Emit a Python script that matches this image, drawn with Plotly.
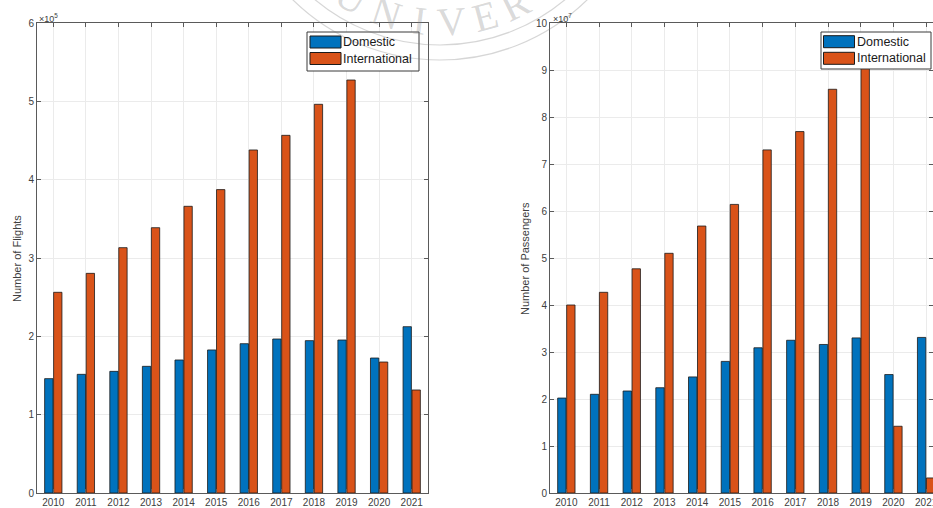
import math
import plotly.graph_objects as go

W, H = 933, 508

years = ['2010', '2011', '2012', '2013', '2014', '2015', '2016', '2017', '2018', '2019', '2020', '2021']
flights_domestic = [146000, 151500, 155300, 161700, 169800, 182600, 190600, 196600, 194500, 195300, 172300, 212300]
flights_international = [256200, 280400, 313200, 338700, 366000, 387300, 437900, 456600, 496200, 527200, 167200, 131500]
passengers_domestic = [20.2e6, 21.0e6, 21.7e6, 22.4e6, 24.7e6, 28.0e6, 30.9e6, 32.5e6, 31.6e6, 33.0e6, 25.2e6, 33.1e6]
passengers_international = [40.0e6, 42.7e6, 47.7e6, 51.0e6, 56.8e6, 61.4e6, 73.0e6, 76.9e6, 85.9e6, 91.0e6, 14.2e6, 3.2e6]
series_names = ['Domestic', 'International']
flight_ticks = [0, 1e5, 2e5, 3e5, 4e5, 5e5, 6e5]
flight_ticktext = ['0', '1', '2', '3', '4', '5', '6']
passenger_ticks = [0, 1e7, 2e7, 3e7, 4e7, 5e7, 6e7, 7e7, 8e7, 9e7, 10e7]
passenger_ticktext = ['0', '1', '2', '3', '4', '5', '6', '7', '8', '9', '10']
watermark_letters = ['U', 'N', 'I', 'V', 'E', 'R']

BLUE = '#0072BD'
ORANGE = '#D95319'
FONT = 'Liberation Sans'
AX = '#5a5a5a'
TXT = '#404040'


def px(x):
    return x / W


def py(y):
    return 1 - y / H


fig = go.Figure()
edge = dict(color='#1a1a1a', width=0.8)
fig.add_bar(x=years, y=flights_domestic, name=series_names[0], marker=dict(color=BLUE, line=edge),
            xaxis='x', yaxis='y', showlegend=False)
fig.add_bar(x=years, y=flights_international, name=series_names[1], marker=dict(color=ORANGE, line=edge),
            xaxis='x', yaxis='y', showlegend=False)
fig.add_bar(x=years, y=passengers_domestic, name=series_names[0], marker=dict(color=BLUE, line=edge),
            xaxis='x2', yaxis='y2', showlegend=False)
fig.add_bar(x=years, y=passengers_international, name=series_names[1], marker=dict(color=ORANGE, line=edge),
            xaxis='x2', yaxis='y2', showlegend=False)

common_x = dict(type='category', ticks='inside', ticklen=4, tickcolor=AX, mirror='ticks', showline=True,
                linecolor=AX, linewidth=1, showgrid=True, gridcolor='#ebebeb', gridwidth=1,
                tickfont=dict(family=FONT, size=10, color=TXT), zeroline=False, automargin=False)
common_y = dict(ticks='inside', ticklen=4, tickcolor=AX, mirror='ticks', showline=True,
                linecolor=AX, linewidth=1, showgrid=True, gridcolor='#ebebeb', gridwidth=1,
                tickfont=dict(family=FONT, size=10, color=TXT), zeroline=False, automargin=False)

ydom = [py(493), py(23)]

fig.update_layout(
    template='none',
    width=W, height=H, autosize=False,
    margin=dict(l=0, r=0, t=0, b=0, pad=0),
    paper_bgcolor='white', plot_bgcolor='white',
    font=dict(family=FONT, color=TXT),
    barmode='group', bargap=0.45, bargroupgap=0.07,
    xaxis=dict(common_x, domain=[px(37), px(428)], range=[-0.5, 11.5], anchor='y'),
    yaxis=dict(common_y, domain=ydom, range=[0, 6e5], tickvals=flight_ticks, ticktext=flight_ticktext, anchor='x'),
    xaxis2=dict(common_x, domain=[px(550), 1.0], range=[-0.5, 11.21], anchor='y2'),
    yaxis2=dict(common_y, domain=ydom, range=[0, 10e7], tickvals=passenger_ticks, ticktext=passenger_ticktext, anchor='x2'),
    showlegend=False,
)

shapes = []
annotations = []

annotations.append(dict(x=px(17), y=py(259), xref='paper', yref='paper', text='Number of Flights', textangle=-90,
                        showarrow=False, font=dict(family=FONT, size=11, color=TXT), xanchor='center', yanchor='middle'))
annotations.append(dict(x=px(525), y=py(259), xref='paper', yref='paper', text='Number of Passengers', textangle=-90,
                        showarrow=False, font=dict(family=FONT, size=11, color=TXT), xanchor='center', yanchor='middle'))
annotations.append(dict(x=px(37), y=py(18), xref='paper', yref='paper', text='×10<sup>5</sup>',
                        showarrow=False, font=dict(family=FONT, size=9, color=TXT), xanchor='left', yanchor='middle'))
annotations.append(dict(x=px(551), y=py(18), xref='paper', yref='paper', text='×10<sup>7</sup>',
                        showarrow=False, font=dict(family=FONT, size=9, color=TXT), xanchor='left', yanchor='middle'))


def legend(box, sw_x, text_x, rows):
    x0, y0, x1, y1 = box
    shapes.append(dict(type='rect', xref='paper', yref='paper', x0=px(x0), x1=px(x1), y0=py(y1), y1=py(y0),
                       fillcolor='white', line=dict(color='#3a3a3a', width=1), layer='above'))
    for (cy, color, label) in rows:
        shapes.append(dict(type='rect', xref='paper', yref='paper', x0=px(sw_x), x1=px(sw_x + 31),
                           y0=py(cy + 6), y1=py(cy - 6), fillcolor=color, line=dict(color='#1a1a1a', width=1), layer='above'))
        annotations.append(dict(x=px(text_x), y=py(cy), xref='paper', yref='paper', text=label, showarrow=False,
                                font=dict(family=FONT, size=12.5, color='#1a1a1a'), xanchor='left', yanchor='middle'))


legend((307, 32, 419, 71), 310, 341, [(42, BLUE, series_names[0]), (58.5, ORANGE, series_names[1])])
legend((821, 32, 931, 69), 823.5, 854.5, [(41.7, BLUE, series_names[0]), (58.3, ORANGE, series_names[1])])

# faint watermark seal
wm_cx, wm_cy = 440, -150
for r in (195, 210):
    shapes.append(dict(type='circle', xref='paper', yref='paper', x0=px(wm_cx - r), x1=px(wm_cx + r),
                       y0=py(wm_cy + r), y1=py(wm_cy - r), line=dict(color='rgba(120,120,120,0.3)', width=1.2),
                       fillcolor='rgba(0,0,0,0)', layer='above'))
wm_angles = [-31, -18, -7, 4, 15, 26]
for ch, a in zip(watermark_letters, wm_angles):
    rr = 172
    lx = wm_cx + rr * math.sin(math.radians(a))
    ly = wm_cy + rr * math.cos(math.radians(a))
    annotations.append(dict(x=px(lx), y=py(ly), xref='paper', yref='paper', text=ch, textangle=-a, showarrow=False,
                            font=dict(family='Liberation Serif', size=40, color='rgba(130,130,130,0.3)'),
                            xanchor='center', yanchor='middle'))

fig.update_layout(shapes=shapes, annotations=annotations)
fig.write_html('out.html', config={'displayModeBar': False},
               post_script="document.body.style.margin='0';document.body.style.padding='0';document.body.style.overflow='hidden';")
